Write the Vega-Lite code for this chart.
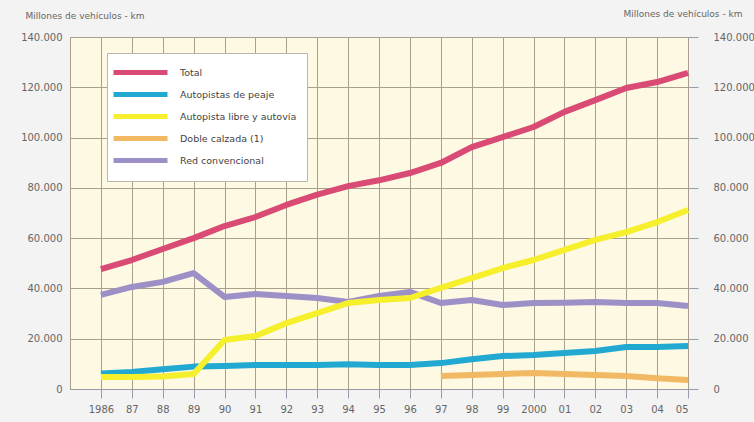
{
  "$schema": "https://vega.github.io/schema/vega-lite/v6.json",
  "width": 618,
  "height": 352,
  "autosize": {"type": "none"},
  "padding": {"left": 70, "top": 37, "right": 66, "bottom": 33},
  "background": "#f3f3f3",
  "config": {
    "font": "DejaVu Sans",
    "view": {"fill": "#fdf9e3", "stroke": "#a8a08a", "strokeWidth": 1},
    "axis": {
      "labelFont": "DejaVu Sans",
      "labelFontSize": 10,
      "labelColor": "#666666",
      "titleFont": "DejaVu Sans",
      "titleFontSize": 9,
      "titleFontWeight": "normal",
      "titleColor": "#666666",
      "gridColor": "#a8a08a",
      "gridOpacity": 1,
      "tickColor": "#9a9aa8",
      "domainColor": "#9a9aa8"
    }
  },
  "data": {
    "values": [
      {"year": 1986, "serie": "Total", "value": 47700},
      {"year": 1987, "serie": "Total", "value": 51300},
      {"year": 1988, "serie": "Total", "value": 55700},
      {"year": 1989, "serie": "Total", "value": 60000},
      {"year": 1990, "serie": "Total", "value": 64800},
      {"year": 1991, "serie": "Total", "value": 68400},
      {"year": 1992, "serie": "Total", "value": 73200},
      {"year": 1993, "serie": "Total", "value": 77300},
      {"year": 1994, "serie": "Total", "value": 80700},
      {"year": 1995, "serie": "Total", "value": 83000},
      {"year": 1996, "serie": "Total", "value": 85900},
      {"year": 1997, "serie": "Total", "value": 89900},
      {"year": 1998, "serie": "Total", "value": 96200},
      {"year": 1999, "serie": "Total", "value": 100200},
      {"year": 2000, "serie": "Total", "value": 104200},
      {"year": 2001, "serie": "Total", "value": 110200},
      {"year": 2002, "serie": "Total", "value": 114900},
      {"year": 2003, "serie": "Total", "value": 119700},
      {"year": 2004, "serie": "Total", "value": 122100},
      {"year": 2005, "serie": "Total", "value": 125700},
      {"year": 1986, "serie": "Red convencional", "value": 37400},
      {"year": 1987, "serie": "Red convencional", "value": 40600},
      {"year": 1988, "serie": "Red convencional", "value": 42600},
      {"year": 1989, "serie": "Red convencional", "value": 46100},
      {"year": 1990, "serie": "Red convencional", "value": 36600},
      {"year": 1991, "serie": "Red convencional", "value": 37800},
      {"year": 1992, "serie": "Red convencional", "value": 37000},
      {"year": 1993, "serie": "Red convencional", "value": 36200},
      {"year": 1994, "serie": "Red convencional", "value": 34600},
      {"year": 1995, "serie": "Red convencional", "value": 37000},
      {"year": 1996, "serie": "Red convencional", "value": 38600},
      {"year": 1997, "serie": "Red convencional", "value": 34200},
      {"year": 1998, "serie": "Red convencional", "value": 35400},
      {"year": 1999, "serie": "Red convencional", "value": 33400},
      {"year": 2000, "serie": "Red convencional", "value": 34200},
      {"year": 2001, "serie": "Red convencional", "value": 34300},
      {"year": 2002, "serie": "Red convencional", "value": 34600},
      {"year": 2003, "serie": "Red convencional", "value": 34200},
      {"year": 2004, "serie": "Red convencional", "value": 34200},
      {"year": 2005, "serie": "Red convencional", "value": 33000},
      {"year": 1986, "serie": "Autopistas de peaje", "value": 6200},
      {"year": 1987, "serie": "Autopistas de peaje", "value": 6800},
      {"year": 1988, "serie": "Autopistas de peaje", "value": 7900},
      {"year": 1989, "serie": "Autopistas de peaje", "value": 8900},
      {"year": 1990, "serie": "Autopistas de peaje", "value": 9100},
      {"year": 1991, "serie": "Autopistas de peaje", "value": 9500},
      {"year": 1992, "serie": "Autopistas de peaje", "value": 9500},
      {"year": 1993, "serie": "Autopistas de peaje", "value": 9500},
      {"year": 1994, "serie": "Autopistas de peaje", "value": 9800},
      {"year": 1995, "serie": "Autopistas de peaje", "value": 9500},
      {"year": 1996, "serie": "Autopistas de peaje", "value": 9500},
      {"year": 1997, "serie": "Autopistas de peaje", "value": 10300},
      {"year": 1998, "serie": "Autopistas de peaje", "value": 11800},
      {"year": 1999, "serie": "Autopistas de peaje", "value": 13100},
      {"year": 2000, "serie": "Autopistas de peaje", "value": 13500},
      {"year": 2001, "serie": "Autopistas de peaje", "value": 14300},
      {"year": 2002, "serie": "Autopistas de peaje", "value": 15100},
      {"year": 2003, "serie": "Autopistas de peaje", "value": 16700},
      {"year": 2004, "serie": "Autopistas de peaje", "value": 16700},
      {"year": 2005, "serie": "Autopistas de peaje", "value": 17100},
      {"year": 1986, "serie": "Autopista libre y autovía", "value": 4800},
      {"year": 1987, "serie": "Autopista libre y autovía", "value": 4800},
      {"year": 1988, "serie": "Autopista libre y autovía", "value": 5000},
      {"year": 1989, "serie": "Autopista libre y autovía", "value": 6000},
      {"year": 1990, "serie": "Autopista libre y autovía", "value": 19500},
      {"year": 1991, "serie": "Autopista libre y autovía", "value": 21100},
      {"year": 1992, "serie": "Autopista libre y autovía", "value": 26200},
      {"year": 1993, "serie": "Autopista libre y autovía", "value": 30200},
      {"year": 1994, "serie": "Autopista libre y autovía", "value": 34200},
      {"year": 1995, "serie": "Autopista libre y autovía", "value": 35400},
      {"year": 1996, "serie": "Autopista libre y autovía", "value": 36200},
      {"year": 1997, "serie": "Autopista libre y autovía", "value": 40200},
      {"year": 1998, "serie": "Autopista libre y autovía", "value": 44100},
      {"year": 1999, "serie": "Autopista libre y autovía", "value": 48100},
      {"year": 2000, "serie": "Autopista libre y autovía", "value": 51300},
      {"year": 2001, "serie": "Autopista libre y autovía", "value": 55300},
      {"year": 2002, "serie": "Autopista libre y autovía", "value": 59300},
      {"year": 2003, "serie": "Autopista libre y autovía", "value": 62400},
      {"year": 2004, "serie": "Autopista libre y autovía", "value": 66400},
      {"year": 2005, "serie": "Autopista libre y autovía", "value": 71200},
      {"year": 1997, "serie": "Doble calzada (1)", "value": 5200},
      {"year": 1998, "serie": "Doble calzada (1)", "value": 5600},
      {"year": 1999, "serie": "Doble calzada (1)", "value": 6000},
      {"year": 2000, "serie": "Doble calzada (1)", "value": 6400},
      {"year": 2001, "serie": "Doble calzada (1)", "value": 6000},
      {"year": 2002, "serie": "Doble calzada (1)", "value": 5600},
      {"year": 2003, "serie": "Doble calzada (1)", "value": 5200},
      {"year": 2004, "serie": "Doble calzada (1)", "value": 4300},
      {"year": 2005, "serie": "Doble calzada (1)", "value": 3600}
    ]
  },
  "encoding": {
    "x": {
      "field": "year",
      "type": "quantitative",
      "scale": {"domain": [1985, 2005], "nice": false, "zero": false},
      "axis": {
        "title": null,
        "values": [1986, 1987, 1988, 1989, 1990, 1991, 1992, 1993, 1994, 1995, 1996, 1997, 1998, 1999, 2000, 2001, 2002, 2003, 2004, 2005],
        "labelExpr": "datum.value == 1986 || datum.value == 2000 ? '' + datum.value : slice('' + datum.value, 2)",
        "grid": true,
        "tickSize": 9,
        "labelPadding": 6,
        "domain": true
      }
    }
  },
  "layer": [
    {
      "mark": {"type": "line", "strokeWidth": 6, "strokeJoin": "round", "strokeCap": "butt"},
      "encoding": {
        "y": {
          "field": "value",
          "type": "quantitative",
          "scale": {"domain": [0, 140000], "nice": false},
          "axis": {
            "orient": "left",
            "values": [0, 20000, 40000, 60000, 80000, 100000, 120000, 140000],
            "labelExpr": "replace(format(datum.value, ','), ',', '.')",
            "grid": true,
            "ticks": false,
            "domain": false,
            "labelPadding": 8,
            "title": "Millones de vehículos - km",
            "titleAngle": 0,
            "titleAlign": "left",
            "titleBaseline": "middle",
            "titleX": -45,
            "titleY": -22
          }
        },
        "color": {
          "field": "serie",
          "type": "nominal",
          "sort": ["Total", "Autopistas de peaje", "Autopista libre y autovía", "Doble calzada (1)", "Red convencional"],
          "scale": {
            "domain": ["Total", "Autopistas de peaje", "Autopista libre y autovía", "Doble calzada (1)", "Red convencional"],
            "range": ["#d94a74", "#21a9d2", "#f5ef2c", "#f1b964", "#9d90c6"]
          },
          "legend": {
            "title": null,
            "orient": "none",
            "legendX": 37,
            "legendY": 16,
            "fillColor": "#ffffff",
            "strokeColor": "#bdb6a4",
            "padding": 10,
            "symbolType": "M-4,0H4",
            "symbolStrokeWidth": 5,
            "symbolSize": 182,
            "symbolOffset": 14,
            "labelFont": "DejaVu Sans",
            "labelFontSize": 9.5,
            "labelColor": "#444444",
            "labelOffset": 30,
            "rowPadding": 1,
            "labelLimit": 200
          }
        }
      }
    },
    {
      "mark": {"type": "line", "strokeOpacity": 0},
      "encoding": {
        "detail": {"field": "serie"},
        "y": {
          "field": "value",
          "type": "quantitative",
          "axis": {
            "orient": "right",
            "values": [0, 20000, 40000, 60000, 80000, 100000, 120000, 140000],
            "labelExpr": "replace(format(datum.value, ','), ',', '.')",
            "grid": false,
            "ticks": true,
            "tickSize": 10,
            "domain": false,
            "labelPadding": 15,
            "title": "Millones de vehículos - km",
            "titleAngle": 0,
            "titleAlign": "right",
            "titleBaseline": "middle",
            "titleX": 54,
            "titleY": -24
          }
        }
      }
    }
  ],
  "resolve": {"axis": {"y": "independent"}}
}
